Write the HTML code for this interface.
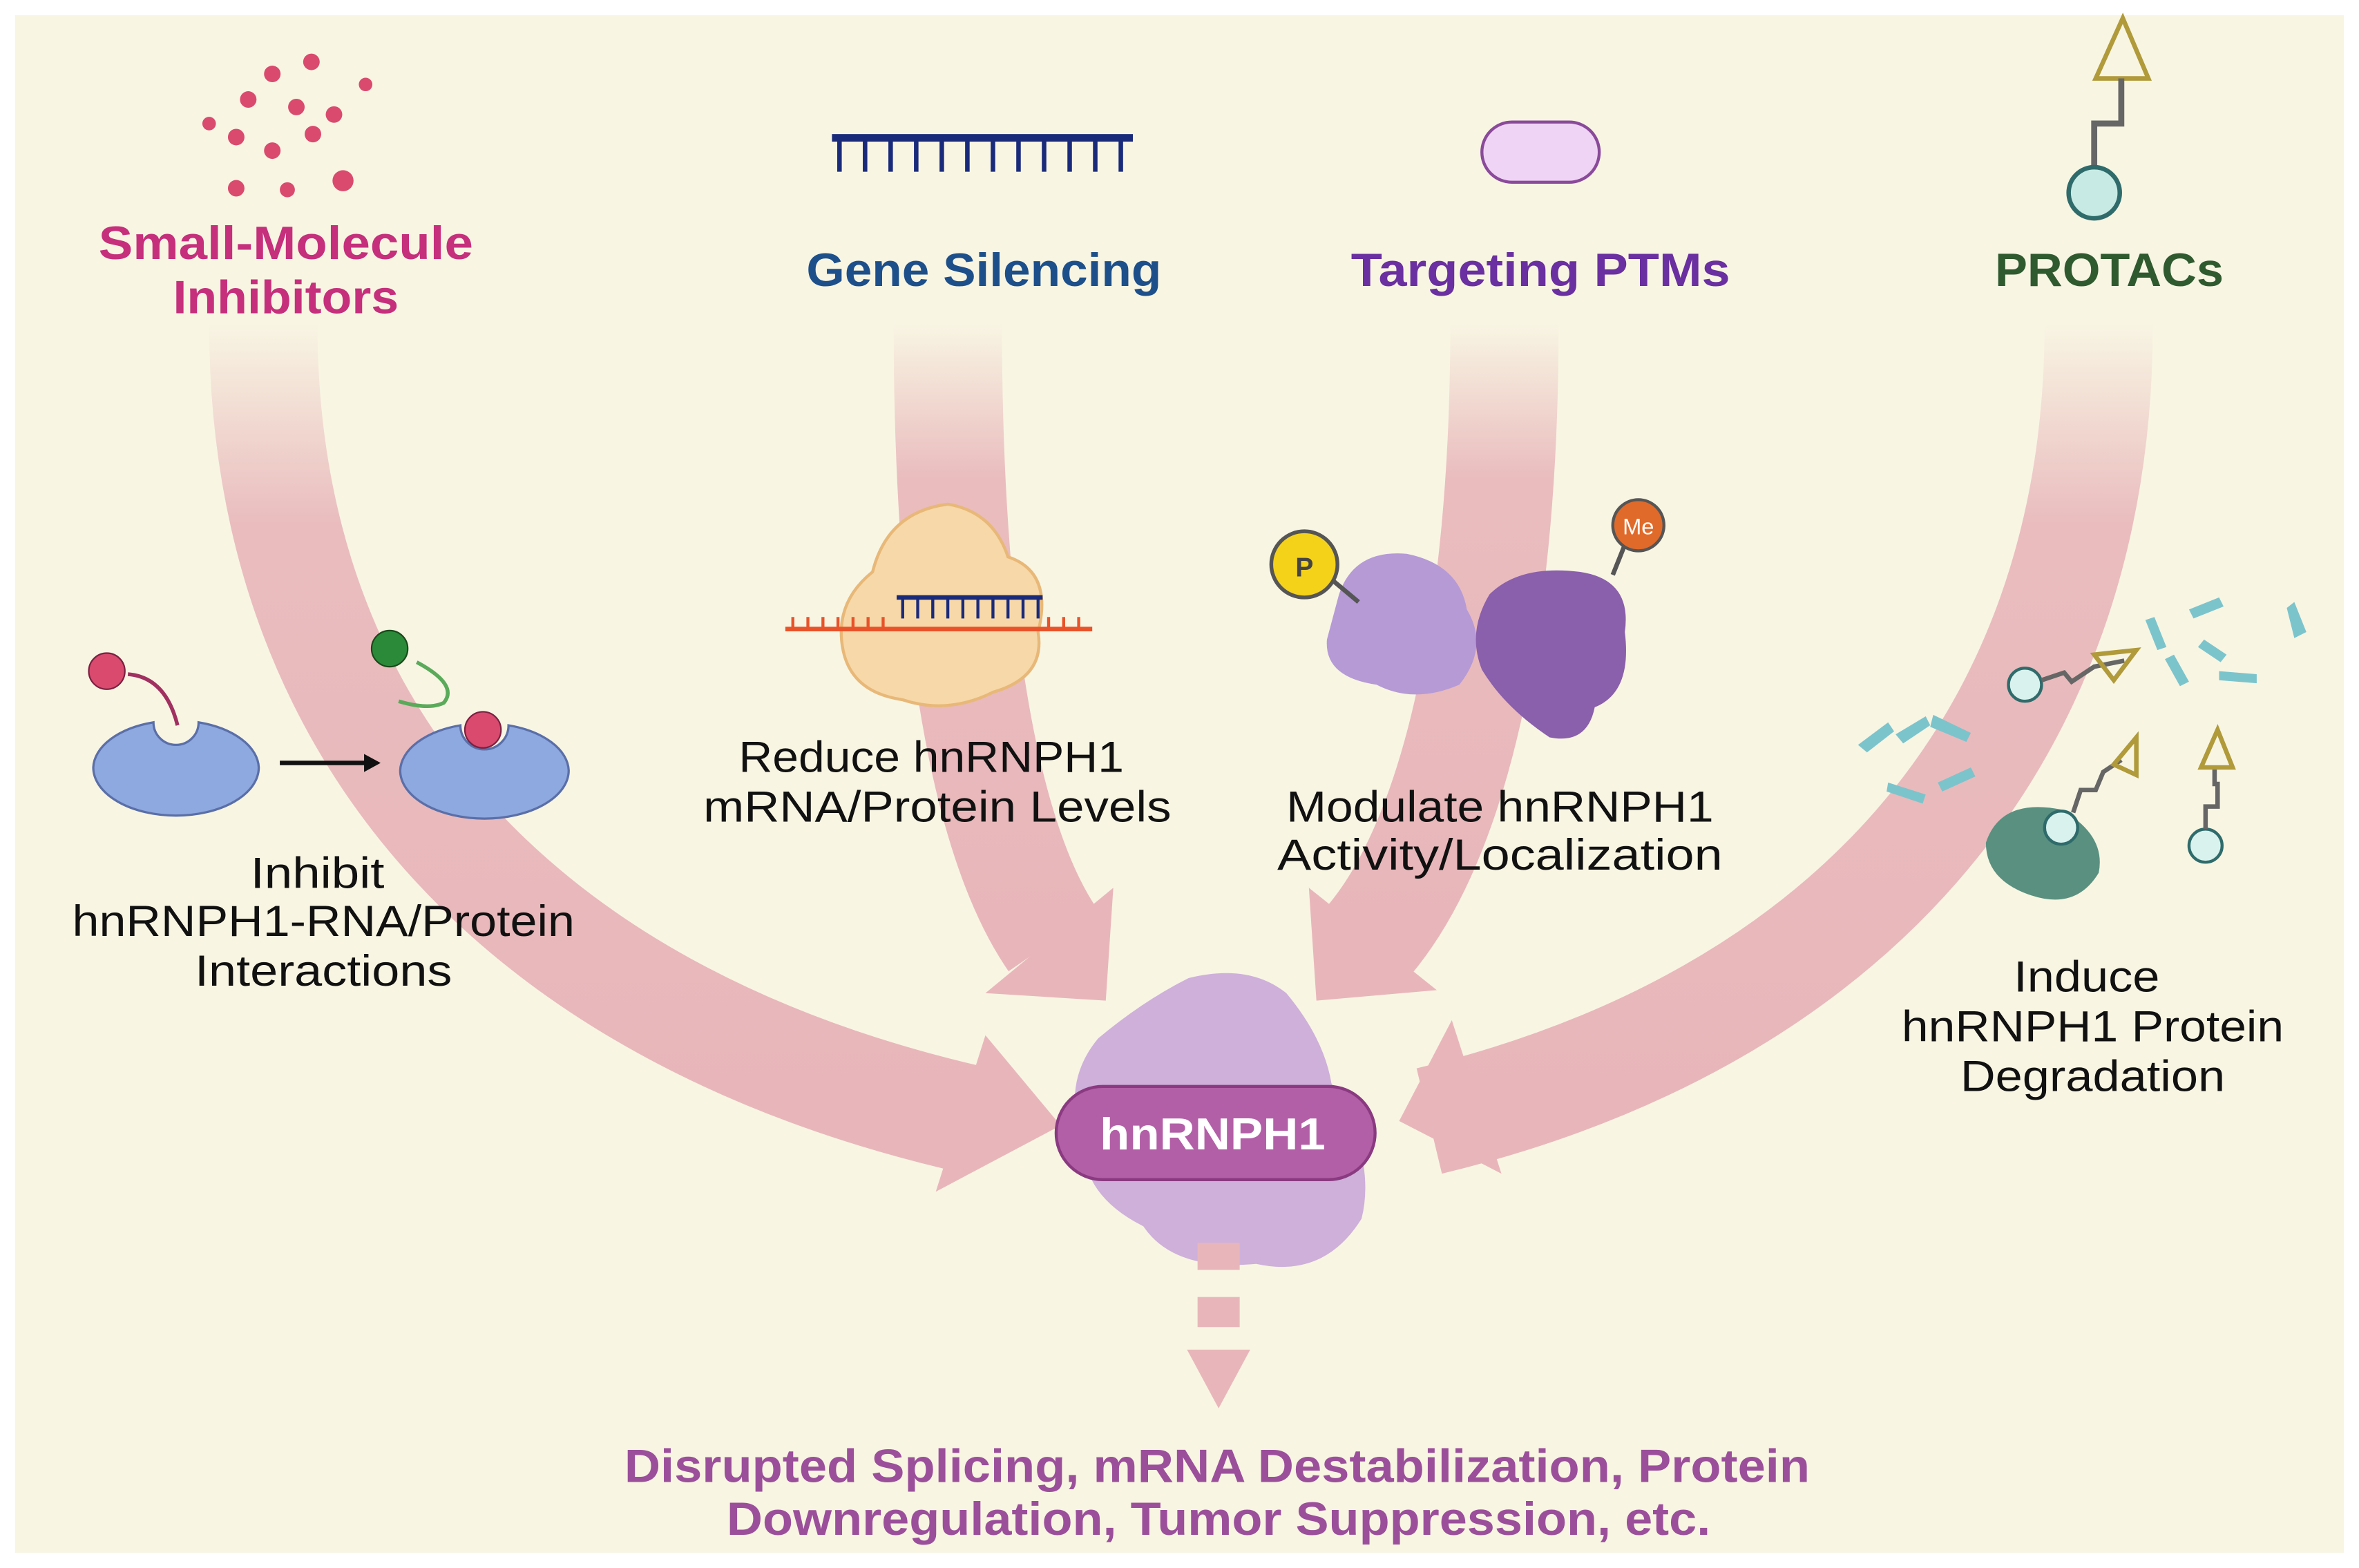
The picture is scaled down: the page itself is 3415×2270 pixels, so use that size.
<!DOCTYPE html>
<html><head><meta charset="utf-8"><style>
html,body{margin:0;padding:0;background:#fff;}
svg{display:block;}
text{font-family:"Liberation Sans",sans-serif;}
</style></head><body>
<svg width="3415" height="2270" viewBox="0 0 1568 1042" xmlns="http://www.w3.org/2000/svg">
<defs>
<linearGradient id="fade" x1="0" y1="0" x2="0" y2="1">
<stop offset="0" stop-color="#e8b6ba" stop-opacity="0"/>
<stop offset="0.25" stop-color="#e8b6ba" stop-opacity="0.9"/>
<stop offset="1" stop-color="#e8b6ba" stop-opacity="1"/>
</linearGradient>
</defs>
<rect x="0" y="0" width="1568" height="1042" fill="#fff"/>
<rect x="10" y="10" width="1548" height="1022" fill="#f8f5e3"/>

<g fill="none" stroke="url(#fade)" stroke-width="72">
<path d="M175,215 C175,500 360,680 650,745"/>
<path d="M630,215 C630,420 655,560 700,625"/>
<path d="M1000,215 C1000,420 965,560 910,625"/>
<path d="M1395,215 C1395,500 1220,680 950,745"/>
</g>
<g fill="#e8b6ba">
<polygon points="655,688 705,748 622,792"/>
<polygon points="655,660 735,665 740,590"/>
<polygon points="875,665 955,658 870,590"/>
<polygon points="965,678 930,745 998,780"/>
</g>

<g fill="#d94a6e">
<circle cx="181" cy="49" r="5.5"/><circle cx="207" cy="41" r="5.5"/><circle cx="243" cy="56" r="4.5"/>
<circle cx="165" cy="66" r="5.5"/><circle cx="197" cy="71" r="5.5"/><circle cx="222" cy="76" r="5.5"/>
<circle cx="139" cy="82" r="4.5"/><circle cx="157" cy="91" r="5.5"/><circle cx="208" cy="89" r="5.5"/>
<circle cx="181" cy="100" r="5.5"/><circle cx="157" cy="125" r="5.5"/><circle cx="191" cy="126" r="5"/><circle cx="228" cy="120" r="7"/>
</g>
<g font-weight="bold" text-anchor="middle" font-size="31" lengthAdjust="spacingAndGlyphs">
<text x="190" y="172" fill="#c52f7c" textLength="249" lengthAdjust="spacingAndGlyphs">Small-Molecule</text>
<text x="190" y="208" fill="#c52f7c" textLength="150" lengthAdjust="spacingAndGlyphs">Inhibitors</text>
<text x="654" y="190" fill="#1d4f8a" textLength="236" lengthAdjust="spacingAndGlyphs">Gene Silencing</text>
<text x="1024" y="190" fill="#6a2fa0" textLength="252" lengthAdjust="spacingAndGlyphs">Targeting PTMs</text>
<text x="1402" y="190" fill="#2f5a2f" textLength="152" lengthAdjust="spacingAndGlyphs">PROTACs</text>
</g>

<rect x="553" y="89" width="200" height="5" fill="#1a2a7a"/>
<g stroke="#1a2a7a" stroke-width="3">
<path d="M558,92v22M575,92v22M592,92v22M609,92v22M626,92v22M643,92v22M660,92v22M677,92v22M694,92v22M711,92v22M728,92v22M745,92v22"/>
</g>

<rect x="985" y="81" width="78" height="40" rx="20" fill="#f0d4f5" stroke="#8a4a9a" stroke-width="2"/>

<polygon points="1393,52 1411,12 1428,52" fill="none" stroke="#b09a3a" stroke-width="3"/>
<path d="M1410,52 v30 h-18 v30" fill="none" stroke="#666" stroke-width="4"/>
<circle cx="1392" cy="128" r="17" fill="#c7ebe4" stroke="#2f6b6b" stroke-width="3"/>

<path d="M62,510 a55,32 0 0 0 110,0 a55,32 0 0 0 -40,-30 a15,15 0 0 1 -30,0 a55,32 0 0 0 -40,30z" fill="#8ea8e0" stroke="#5a6fa8" stroke-width="1.5"/>
<circle cx="71" cy="446" r="12" fill="#d94a6e" stroke="#7a2040"/>
<path d="M85,448 Q110,450 118,482" fill="none" stroke="#a03060" stroke-width="2.5"/>
<line x1="186" y1="507" x2="245" y2="507" stroke="#111" stroke-width="3"/>
<polygon points="242,501 253,507 242,513" fill="#111"/>
<path d="M266,512 a56,32 0 0 0 112,0 a56,32 0 0 0 -40,-30 a16,16 0 0 1 -32,0 a56,32 0 0 0 -40,30z" fill="#8ea8e0" stroke="#5a6fa8" stroke-width="1.5"/>
<circle cx="321" cy="485" r="12" fill="#d94a6e" stroke="#7a2040"/>
<circle cx="259" cy="431" r="12" fill="#2a8a3a" stroke="#1a4a1a"/>
<path d="M277,440 Q305,455 295,467 Q285,472 265,466" fill="none" stroke="#5aaa5a" stroke-width="2.5"/>
<g font-size="29" fill="#111" text-anchor="middle">
<text x="211" y="590" textLength="89" lengthAdjust="spacingAndGlyphs">Inhibit</text>
<text x="215" y="622" textLength="334" lengthAdjust="spacingAndGlyphs">hnRNPH1-RNA/Protein</text>
<text x="215" y="655" textLength="171" lengthAdjust="spacingAndGlyphs">Interactions</text>
<text x="619" y="513" textLength="256" lengthAdjust="spacingAndGlyphs">Reduce hnRNPH1</text>
<text x="623" y="546" textLength="311" lengthAdjust="spacingAndGlyphs">mRNA/Protein Levels</text>
<text x="997" y="546" textLength="284" lengthAdjust="spacingAndGlyphs">Modulate hnRNPH1</text>
<text x="997" y="578" textLength="296" lengthAdjust="spacingAndGlyphs">Activity/Localization</text>
<text x="1387" y="659" textLength="97" lengthAdjust="spacingAndGlyphs">Induce</text>
<text x="1391" y="692" textLength="254" lengthAdjust="spacingAndGlyphs">hnRNPH1 Protein</text>
<text x="1391" y="725" textLength="176" lengthAdjust="spacingAndGlyphs">Degradation</text>
</g>

<path d="M580,380 Q590,340 630,335 Q660,340 670,370 Q700,380 690,420 Q695,450 660,460 Q630,475 600,465 Q565,460 560,430 Q555,400 580,380z" fill="#f7d8a8" stroke="#e8b878" stroke-width="2"/>
<line x1="522" y1="418" x2="726" y2="418" stroke="#e8532a" stroke-width="3"/>
<g stroke="#e8532a" stroke-width="2"><path d="M527,410v8M537,410v8M547,410v8M557,410v8M567,410v8M577,410v8M587,410v8M697,410v8M707,410v8M717,410v8"/></g>
<line x1="596" y1="397" x2="693" y2="397" stroke="#1a2a7a" stroke-width="3"/>
<g stroke="#1a2a7a" stroke-width="2"><path d="M600,397v14M610,397v14M620,397v14M630,397v14M640,397v14M650,397v14M660,397v14M670,397v14M680,397v14M690,397v14"/></g>

<path d="M890,395 Q900,365 935,368 Q970,375 975,405 Q990,430 970,455 Q940,468 915,455 Q880,450 882,425z" fill="#b59ad6"/>
<path d="M990,395 Q1010,375 1050,380 Q1085,385 1080,420 Q1085,460 1060,470 Q1055,495 1030,490 Q1000,470 985,445 Q975,420 990,395z" fill="#8a5fab"/>
<line x1="885" y1="385" x2="903" y2="400" stroke="#555" stroke-width="3"/>
<circle cx="867" cy="375" r="22" fill="#f5d21a" stroke="#555" stroke-width="2.5"/>
<text x="867" y="383" text-anchor="middle" font-size="18" font-weight="bold" fill="#444">P</text>
<line x1="1080" y1="362" x2="1072" y2="382" stroke="#555" stroke-width="3"/>
<circle cx="1089" cy="349" r="17" fill="#e06a2a" stroke="#555" stroke-width="2"/>
<text x="1089" y="355" text-anchor="middle" font-size="15" fill="#fff">Me</text>

<g fill="#7cc4cc">
<path d="M1235,495 l20,-15 l4,6 l-18,14z"/><path d="M1260,488 l20,-12 l3,6 l-18,12z"/>
<path d="M1285,475 l25,12 l-3,6 l-24,-10z"/><path d="M1255,520 l25,8 l-2,6 l-24,-8z"/>
<path d="M1288,520 l22,-10 l3,6 l-22,10z"/>
<path d="M1432,410 l8,20 l-6,2 l-8,-20z"/><path d="M1455,405 l20,-8 l3,6 l-20,8z"/>
<path d="M1465,425 l15,10 l-4,5 l-15,-10z"/><path d="M1445,435 l10,18 l-6,3 l-10,-18z"/>
<path d="M1475,446 l25,2 l0,6 l-25,-2z"/><path d="M1525,400 l8,20 l-8,4 l-5,-20z"/>
</g>
<path d="M1320,560 Q1330,530 1370,538 Q1400,555 1395,580 Q1380,605 1350,595 Q1320,585 1320,560z" fill="#5a9080"/>
<g fill="#d9f2ee" stroke="#2f6b6b" stroke-width="2">
<circle cx="1346" cy="455" r="11"/><circle cx="1370" cy="550" r="11"/><circle cx="1466" cy="562" r="11"/>
</g>
<g fill="none" stroke="#666" stroke-width="3">
<path d="M1357,452 l15,-5 l5,6 l15,-10 l20,-4"/>
<path d="M1378,540 l5,-15 l10,0 l5,-12 l12,-8"/>
<path d="M1466,551 v-15 h8 v-15 h-2 v-10"/>
</g>
<g fill="none" stroke="#b09a3a" stroke-width="3">
<polygon points="1392,435 1420,432 1405,452"/>
<polygon points="1405,508 1420,490 1420,515"/>
<polygon points="1463,510 1474,485 1484,510"/>
</g>

<path d="M730,690 Q760,665 790,650 Q830,640 855,660 Q880,690 885,720 Q915,770 905,810 Q880,850 835,840 Q780,845 760,815 Q720,795 720,760 Q705,720 730,690z" fill="#c9a8d8" opacity="0.9"/>
<rect x="702" y="722" width="212" height="62" rx="31" fill="#b25fa7" stroke="#8a3a80" stroke-width="2"/>
<text x="806" y="764" text-anchor="middle" font-size="30" font-weight="bold" fill="#fff" textLength="150" lengthAdjust="spacingAndGlyphs">hnRNPH1</text>

<rect x="796" y="826" width="28" height="18" fill="#e8b6ba"/>
<rect x="796" y="862" width="28" height="20" fill="#e8b6ba"/>
<polygon points="789,897 831,897 810,936" fill="#e8b6ba"/>

<text x="809" y="985" text-anchor="middle" font-size="31" font-weight="bold" fill="#9b4f9b" textLength="788" lengthAdjust="spacingAndGlyphs">Disrupted Splicing, mRNA Destabilization, Protein</text>
<text x="810" y="1020" text-anchor="middle" font-size="31" font-weight="bold" fill="#9b4f9b" textLength="654" lengthAdjust="spacingAndGlyphs">Downregulation, Tumor Suppression, etc.</text>
</svg>
</body></html>
